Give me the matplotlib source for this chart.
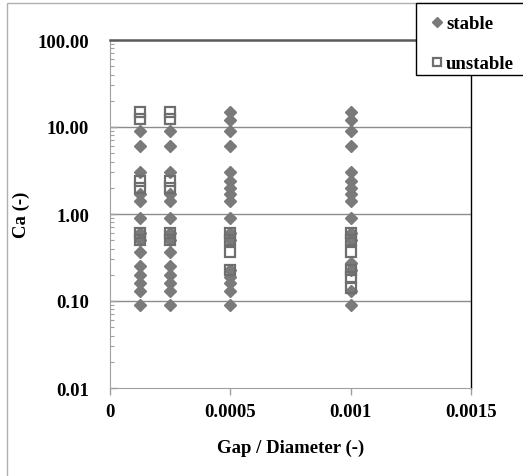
import matplotlib.pyplot as plt
from matplotlib.patches import Rectangle
from matplotlib.ticker import LogLocator, FixedLocator, NullFormatter

plt.rcParams['font.family'] = ['Liberation Serif', 'DejaVu Serif']
plt.rcParams['font.weight'] = 'bold'

# gap/diameter ratios tested
gaps = [0.000125, 0.00025, 0.0005, 0.001]

# Ca values per gap
stable_ca = {
    0.000125: [9, 6, 3, 1.7, 1.4, 0.9, 0.6, 0.5, 0.37, 0.25, 0.2, 0.16, 0.13, 0.09],
    0.00025: [9, 6, 3, 1.7, 1.4, 0.9, 0.6, 0.5, 0.37, 0.25, 0.2, 0.16, 0.13, 0.09],
    0.0005: [15, 12, 9, 6, 3, 2.4, 2.0, 1.7, 1.4, 0.9, 0.6, 0.5, 0.23, 0.19, 0.16, 0.13, 0.09],
    0.001: [15, 12, 9, 6, 3, 2.4, 2.0, 1.7, 1.4, 0.9, 0.6, 0.5, 0.27, 0.23, 0.13, 0.09],
}
unstable_ca = {
    0.000125: [15, 12.5, 2.4, 2.0, 0.6, 0.5],
    0.00025: [15, 12.5, 2.4, 2.0, 0.6, 0.5],
    0.0005: [0.6, 0.5, 0.37, 0.23],
    0.001: [0.6, 0.5, 0.37, 0.23, 0.19, 0.14],
}

xticks = [0, 0.0005, 0.001, 0.0015]
xtick_labels = ['0', '0.0005', '0.001', '0.0015']
yticks = [0.01, 0.1, 1, 10, 100]
ytick_labels = ['0.01', '0.10', '1.00', '10.00', '100.00']

FS = 13.5
W, H = 523, 477
fig = plt.figure(figsize=(W / 100, H / 100), dpi=100)
ax = fig.add_axes([110 / W, 1 - 389 / H, 361 / W, 348 / H])

sx = [g for g in gaps for _ in stable_ca[g]]
sy = [v for g in gaps for v in stable_ca[g]]
ux = [g for g in gaps for _ in unstable_ca[g]]
uy = [v for g in gaps for v in unstable_ca[g]]

st, = ax.plot(sx, sy, 'D', color='#7a7a7a', markersize=6.5, linestyle='none',
              label='stable', zorder=3)
un, = ax.plot(ux, uy, 's', markerfacecolor='none', markeredgecolor='#6e6e6e',
              markeredgewidth=1.6, markersize=7, linestyle='none',
              label='unstable', zorder=4)

ax.set_yscale('log')
ax.set_ylim(0.01, 100)
ax.set_xlim(0, 0.0015)

ax.xaxis.set_major_locator(FixedLocator(xticks))
ax.set_xticklabels(xtick_labels, fontsize=FS, fontweight='bold')
ax.yaxis.set_major_locator(FixedLocator(yticks))
ax.set_yticklabels(ytick_labels, fontsize=FS, fontweight='bold')
ax.yaxis.set_minor_locator(LogLocator(base=10, subs=range(2, 10)))
ax.yaxis.set_minor_formatter(NullFormatter())

ax.tick_params(axis='x', direction='out', length=5, width=1, color='#a0a0a0', pad=6)
ax.tick_params(axis='y', which='major', direction='in', length=5, width=1,
               color='#a0a0a0', pad=15)
ax.tick_params(axis='y', which='minor', direction='in', length=3, width=0.8,
               color='#a0a0a0')

for y in [0.1, 1, 10]:
    ax.axhline(y, color='#8c8c8c', linewidth=1, zorder=1)

ax.spines['top'].set_color('#5a5a5a')
ax.spines['top'].set_linewidth(1.8)
ax.spines['right'].set_color('black')
ax.spines['right'].set_linewidth(1)
ax.spines['left'].set_color('#a0a0a0')
ax.spines['bottom'].set_color('#a0a0a0')

ax.set_xlabel('Gap / Diameter (-)', fontsize=FS, fontweight='bold')
ax.xaxis.label.set_va('center')
ax.xaxis.set_label_coords(0.5, -0.17)
ax.set_ylabel('Ca (-)', fontsize=FS, fontweight='bold')
ax.yaxis.label.set_va('center')
ax.yaxis.set_label_coords(-0.245, 0.5)

# outer chart frame
fig.patches.append(Rectangle((7 / W, -0.1), 1.2, 1.1 - 4 / H, transform=fig.transFigure,
                             facecolor='none', edgecolor='#b0b0b0', linewidth=1, zorder=0))
# legend box
fig.patches.append(Rectangle((416 / W, 1 - 76 / H), 0.5, 72 / H, transform=fig.transFigure,
                             facecolor='white', edgecolor='black', linewidth=1, zorder=4))
fig.legend(handles=[st, un], loc='upper left', bbox_to_anchor=(432 / W, 1 - 16 / H),
           frameon=False, prop={'weight': 'bold', 'size': FS},
           handlelength=0.5, handletextpad=0.25, labelspacing=1.22, borderaxespad=0,
           borderpad=0, markerscale=0.75)

fig.savefig('out.png', dpi=100)
